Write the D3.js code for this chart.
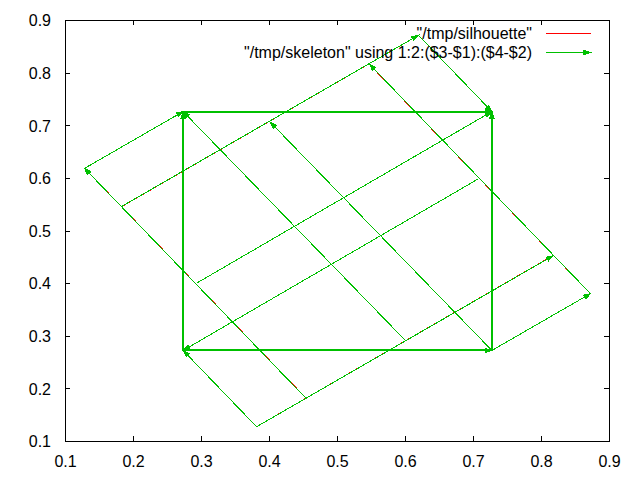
<!DOCTYPE html>
<html><head><meta charset="utf-8">
<script src="https://cdn.jsdelivr.net/npm/d3@7"></script>
<style>body{margin:0;background:#fff}svg{display:block}</style>
</head><body>
<svg id="c" width="640" height="480"></svg>
<script>
// ---- data ----
const xTicks = [0.1,0.2,0.3,0.4,0.5,0.6,0.7,0.8,0.9];
const yTicks = [0.1,0.2,0.3,0.4,0.5,0.6,0.7,0.8,0.9];
const legendLabels = ['"/tmp/silhouette"', '"/tmp/skeleton" using 1:2:($3-$1):($4-$2)'];

// skeleton points
const pointNames = ['L','T','R','B','P','Q','S','U','W','V','X','Y','TL','TR','BR','BL'];
const pointX = [0.128,0.619,0.872,0.381,0.183,0.547,0.817,0.453,0.293,0.401,0.707,0.599,0.273,0.727,0.727,0.273];
const pointY = [0.619,0.872,0.381,0.128,0.547,0.817,0.453,0.183,0.401,0.707,0.599,0.293,0.727,0.727,0.273,0.273];

// silhouette points (outline, read separately)
const silNames = ['L','T','R','B','P','Q','S','U','TL','TR','BR','BL'];
const silX = [0.1282,0.6188,0.8718,0.3812,0.1832,0.5468,0.8168,0.4532,0.273,0.727,0.727,0.273];
const silY = [0.6188,0.8718,0.3812,0.1282,0.5468,0.8168,0.4532,0.1832,0.727,0.727,0.273,0.273];
const silhouetteFrom = ['BL','BR','TR','TL','L','P','Q','B'];
const silhouetteTo   = ['BR','TR','TL','BL','U','T','R','S'];

const skeletonFrom = ['L','T','BR','B','W','BR','X','Y','BL','TL','BL','BR','U','R','P','B'];
const skeletonTo   = ['TL','TR','R','BL','TR','V','BL','TL','TL','TR','BR','TR','L','Q','T','S'];

// ---- chart ----
const FONT = '"Liberation Sans", Arial, sans-serif';
const RED = '#ff0000', GREEN = '#00c000';
const svg = d3.select('#c');
const x = d3.scaleLinear().domain([0.1,0.9]).range([65,609]);
const y = d3.scaleLinear().domain([0.1,0.9]).range([441,20]);
const px = n => x(pointX[pointNames.indexOf(n)]);
const py = n => y(pointY[pointNames.indexOf(n)]);
const sx = n => x(silX[silNames.indexOf(n)]);
const sy = n => y(silY[silNames.indexOf(n)]);
const fmt = d3.format('.1f');

// axes (border + inward ticks on all sides)
function styleAxis(g){
  g.selectAll('path.domain').attr('stroke','#000').attr('shape-rendering','crispEdges');
  g.selectAll('.tick line').attr('stroke','#000').attr('shape-rendering','crispEdges');
}
const gb = svg.append('g').attr('transform','translate(0,441)')
  .call(d3.axisBottom(x).tickValues(xTicks).tickSizeInner(-5).tickSizeOuter(0).tickFormat(fmt));
const gt = svg.append('g').attr('transform','translate(0,20)')
  .call(d3.axisTop(x).tickValues(xTicks).tickSizeInner(-5).tickSizeOuter(0).tickFormat(''));
const gl = svg.append('g').attr('transform','translate(65,0)')
  .call(d3.axisLeft(y).tickValues(yTicks).tickSizeInner(-5).tickSizeOuter(0).tickFormat(fmt));
const gr = svg.append('g').attr('transform','translate(609,0)')
  .call(d3.axisRight(y).tickValues(yTicks).tickSizeInner(-5).tickSizeOuter(0).tickFormat(''));
[gb,gt,gl,gr].forEach(styleAxis);
gb.selectAll('.tick text').attr('y',25.7).attr('dy',null)
  .attr('font-family',FONT).attr('font-size',16).attr('fill','#000');
gl.selectAll('.tick text').attr('x',-14).attr('dy','0.36em')
  .attr('font-family',FONT).attr('font-size',16).attr('fill','#000');
[gb,gt,gl,gr].forEach(g=>g.attr('font-family',null).attr('font-size',null));

const gd = svg.append('g').attr('transform','translate(0.5,0.5)');

// silhouette
gd.selectAll('line.sil').data(d3.range(silhouetteFrom.length)).join('line')
  .attr('class','sil')
  .attr('x1',i=>sx(silhouetteFrom[i])).attr('y1',i=>sy(silhouetteFrom[i]))
  .attr('x2',i=>sx(silhouetteTo[i])).attr('y2',i=>sy(silhouetteTo[i]))
  .attr('stroke',RED).attr('stroke-width',1).attr('shape-rendering','crispEdges');

function headPts(x1,y1,x2,y2){
  const a = Math.atan2(y2-y1,x2-x1), L = 7, th = 18*Math.PI/180;
  return [[x2,y2],[x2-L*Math.cos(a-th),y2-L*Math.sin(a-th)],[x2-L*Math.cos(a+th),y2-L*Math.sin(a+th)]];
}

// skeleton vectors
const idx = d3.range(skeletonFrom.length);
gd.selectAll('line.skel').data(idx).join('line')
  .attr('class','skel')
  .attr('x1',i=>px(skeletonFrom[i])).attr('y1',i=>py(skeletonFrom[i]))
  .attr('x2',i=>px(skeletonTo[i])).attr('y2',i=>py(skeletonTo[i]))
  .attr('stroke',GREEN)
  .attr('stroke-width',i=>{
    const f=skeletonFrom[i], t=skeletonTo[i];
    const axisAligned = Math.abs(px(f)-px(t))<0.5 || Math.abs(py(f)-py(t))<0.5;
    return axisAligned ? 2 : 1;
  })
  .attr('shape-rendering','crispEdges');
gd.selectAll('polygon.head').data(idx).join('polygon')
  .attr('class','head')
  .attr('points',i=>headPts(px(skeletonFrom[i]),py(skeletonFrom[i]),px(skeletonTo[i]),py(skeletonTo[i])).map(p=>p.join(',')).join(' '))
  .attr('fill',GREEN).attr('stroke',GREEN).attr('stroke-width',1).attr('shape-rendering','crispEdges');

// legend
const leg = svg.append('g');
const legY = [33,52];
leg.selectAll('text').data(legendLabels).join('text')
  .attr('x',532).attr('y',(d,i)=>legY[i]).attr('dy','0.36em')
  .attr('text-anchor','end').attr('font-family',FONT).attr('font-size',16).attr('fill','#000')
  .text(d=>d);
const lg = leg.append('g').attr('transform','translate(0.5,0.5)');
lg.append('line').attr('x1',545).attr('x2',590).attr('y1',legY[0]).attr('y2',legY[0])
  .attr('stroke',RED).attr('shape-rendering','crispEdges');
lg.append('line').attr('x1',545).attr('x2',590).attr('y1',legY[1]).attr('y2',legY[1])
  .attr('stroke',GREEN).attr('shape-rendering','crispEdges');
lg.append('polygon').attr('points',headPts(545,legY[1],590,legY[1]).map(p=>p.join(',')).join(' '))
  .attr('fill',GREEN).attr('stroke',GREEN).attr('shape-rendering','crispEdges');
</script>
</body></html>
